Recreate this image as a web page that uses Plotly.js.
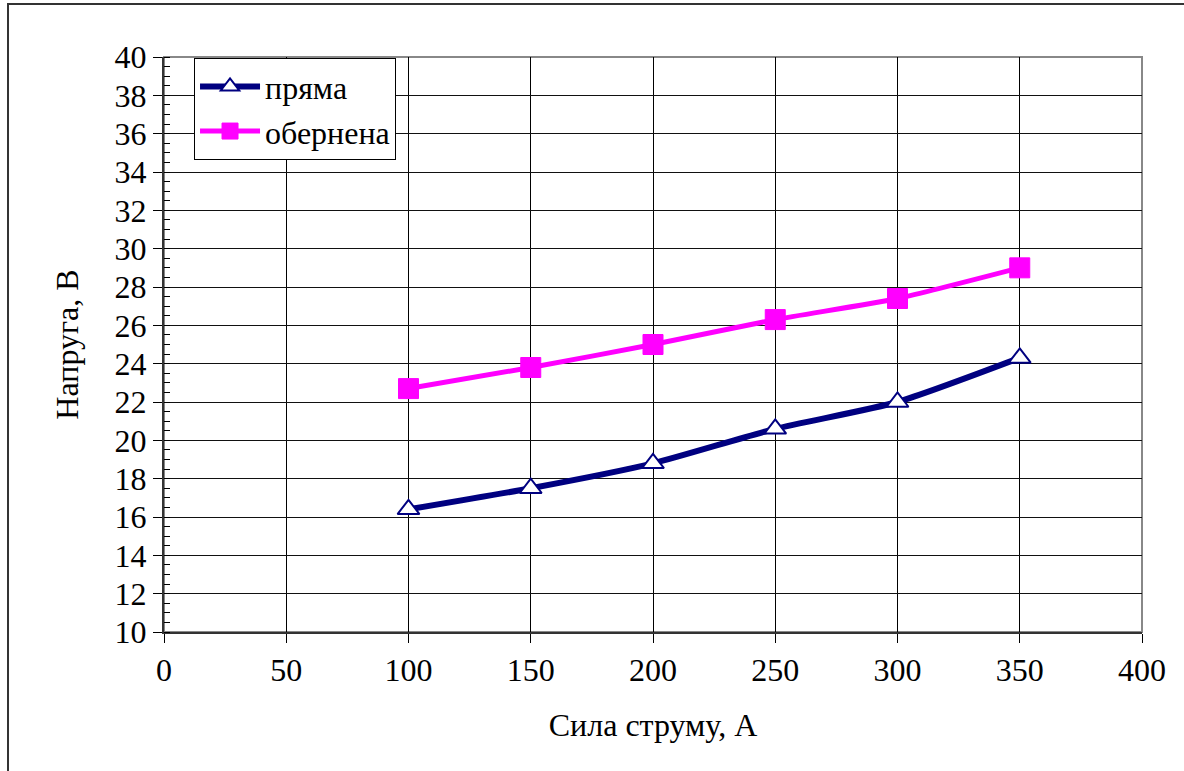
<!DOCTYPE html>
<html>
<head>
<meta charset="utf-8">
<script src="https://cdn.plot.ly/plotly-3.0.1.min.js"></script>
<style>
html,body{margin:0;padding:0;background:#fff;}
#chart{width:1184px;height:771px;}
</style>
</head>
<body>
<div id="chart"></div>
<script>
var current = [100, 150, 200, 250, 300, 350];
var directVoltage = [16.4, 17.5, 18.8, 20.6, 22.0, 24.3];
var reverseVoltage = [22.7, 23.8, 25.0, 26.3, 27.4, 29.0];
var seriesNames = ["пряма", "обернена"];
var xTitle = "Сила струму, А";
var yTitle = "Напруга, В";

var font = "Liberation Serif";
var fs = 32;

var traces = [
  {
    x: current, y: directVoltage, name: seriesNames[0],
    type: "scatter", mode: "lines+markers",
    line: {color: "#000080", width: 6, shape: "spline", smoothing: 0.6},
    marker: {symbol: "triangle-up", size: 19, color: "#ffffff", line: {color: "#000080", width: 2}}
  },
  {
    x: current, y: reverseVoltage, name: seriesNames[1],
    type: "scatter", mode: "lines+markers",
    line: {color: "#ff00ff", width: 5, shape: "spline", smoothing: 0.6},
    marker: {symbol: "square", size: 20, color: "#ff00ff", line: {color: "#ff00ff", width: 1}}
  }
];

var layout = {
  width: 1184, height: 771,
  margin: {l: 164, r: 42, t: 57, b: 139},
  paper_bgcolor: "#ffffff", plot_bgcolor: "#ffffff",
  font: {family: font, color: "#000", size: fs},
  showlegend: true,
  hovermode: false,
  legend: {
    x: 0.0307, y: 0.998, xanchor: "left", yanchor: "top",
    bgcolor: "#ffffff", bordercolor: "#000", borderwidth: 1,
    font: {family: font, size: fs, color: "#000"},
    itemwidth: 60
  },
  xaxis: {
    range: [0, 400], dtick: 50, tick0: 0,
    showgrid: true, gridcolor: "#000", gridwidth: 1,
    zeroline: false,
    showline: true, linecolor: "#333", linewidth: 2,
    ticks: "outside", ticklen: 9, tickcolor: "#000", tickwidth: 1,
    tickfont: {family: font, size: fs, color: "#000"},
    title: {text: xTitle, font: {family: font, size: fs, color: "#000"}, standoff: 26}
  },
  yaxis: {
    range: [10, 40], dtick: 2, tick0: 10,
    showgrid: true, gridcolor: "#111", gridwidth: 1,
    zeroline: false,
    showline: true, linecolor: "#333", linewidth: 2,
    ticks: "outside", ticklen: 9, tickcolor: "#000", tickwidth: 1,
    minor: {dtick: 0.5, ticks: "inside", ticklen: 6, tickcolor: "#000", showgrid: false},
    tickfont: {family: font, size: fs, color: "#000"},
    title: {text: yTitle, font: {family: font, size: fs, color: "#000"}, standoff: 26}
  },
  shapes: [
    {type: "rect", xref: "paper", yref: "paper", x0: 0, x1: 1, y0: 0, y1: 1,
     line: {color: "#888", width: 2}, layer: "below"},
    {type: "rect", xref: "paper", yref: "paper", x0: -0.1595, x1: 1.2, y0: -0.4, y1: 1.0922,
     line: {color: "#333", width: 2}, fillcolor: "rgba(0,0,0,0)", layer: "below"}
  ]
};

Plotly.newPlot("chart", traces, layout, {displayModeBar: false, staticPlot: true});
</script>
</body>
</html>
